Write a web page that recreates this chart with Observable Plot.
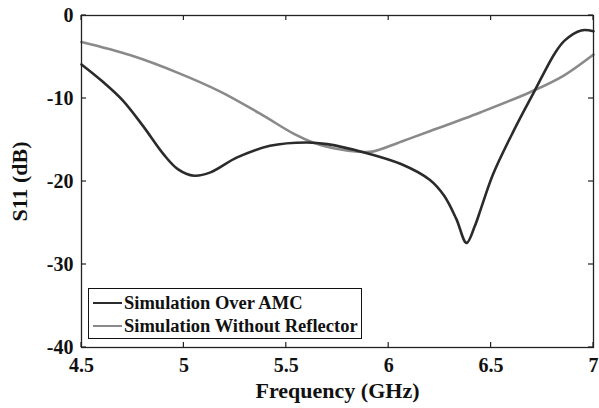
<!DOCTYPE html>
<html>
<head>
<meta charset="utf-8">
<script src="https://cdn.jsdelivr.net/npm/d3@7"></script>
<script src="https://cdn.jsdelivr.net/npm/@observablehq/plot@0.6"></script>
<style>
  html, body { margin: 0; padding: 0; background: #fff; }
  #wrap { position: relative; width: 599px; height: 408px; font-family: "Liberation Serif", "Times New Roman", serif; }
  #legend { position: absolute; left: 88px; top: 288px; width: 272px; height: 49px; border: 1.5px solid #111; background: #fff; }
  .row { position: absolute; left: 0; height: 22px; display: flex; align-items: center; font-weight: bold; font-size: 18.5px; color: #111; white-space: nowrap; }
  .sw { display: inline-block; width: 29px; height: 2.5px; margin-left: 4px; margin-right: 2px; }
</style>
</head>
<body>
<div id="wrap"></div>
<script>
// Series 1: Simulation Over AMC
const freqAMC = [4.5, 4.6, 4.7, 4.8, 4.9, 4.97, 5.05, 5.13, 5.26, 5.42, 5.6, 5.7, 5.88, 6.06, 6.2, 6.27, 6.33, 6.38, 6.42, 6.45, 6.51, 6.61, 6.71, 6.81, 6.86, 6.94, 7.0];
const s11AMC  = [-5.9, -7.9, -10.2, -13.3, -16.7, -18.5, -19.3, -18.9, -17.1, -15.7, -15.3, -15.5, -16.5, -17.9, -19.8, -21.7, -24.5, -27.4, -25.4, -23.3, -19.1, -13.9, -9.2, -4.6, -3.0, -1.8, -1.9];
// Series 2: Simulation Without Reflector
const freqNoRefl = [4.5, 4.74, 4.98, 5.18, 5.37, 5.54, 5.63, 5.73, 5.85, 5.92, 6.06, 6.2, 6.45, 6.69, 6.855, 7.0];
const s11NoRefl  = [-3.2, -4.8, -7.0, -9.2, -11.8, -14.3, -15.3, -16.0, -16.4, -16.4, -15.2, -13.95, -11.65, -9.24, -7.23, -4.7];

const seriesNames = ["Simulation Over AMC", "Simulation Without Reflector"];
const seriesColors = ["#2b2b2b", "#8a8a8a"];
const xTicks = [4.5, 5, 5.5, 6, 6.5, 7];
const xTickLabels = ["4.5", "5", "5.5", "6", "6.5", "7"];
const yTicks = [-40, -30, -20, -10, 0];
const yTickLabels = ["-40", "-30", "-20", "-10", "0"];

const amc = freqAMC.map((f, i) => ({f, s: s11AMC[i]}));
const noRefl = freqNoRefl.map((f, i) => ({f, s: s11NoRefl[i]}));

const font = "Liberation Serif";
const chart = Plot.plot({
  width: 599, height: 408,
  marginLeft: 81, marginRight: 6, marginTop: 15, marginBottom: 61,
  style: {fontFamily: font, fontWeight: "bold", color: "#111", background: "#fff"},
  x: {domain: [4.5, 7]},
  y: {domain: [-40, 0]},
  marks: [
    Plot.axisX({ticks: xTicks, tickSize: 0, tickPadding: 10, fontSize: 20, tickFormat: d => xTickLabels[xTicks.indexOf(d)], label: null}),
    Plot.axisX({ticks: [], tickSize: 0, fontSize: 22, label: "Frequency (GHz)", labelAnchor: "center", labelArrow: "none", labelOffset: 50}),
    Plot.axisY({ticks: yTicks, tickSize: 0, tickPadding: 8, fontSize: 20, tickFormat: d => yTickLabels[yTicks.indexOf(d)], label: null}),
    Plot.axisY({ticks: [], tickSize: 0, fontSize: 22, label: "S11 (dB)", labelAnchor: "center", labelArrow: "none", labelOffset: 70}),
    Plot.line(noRefl, {x: "f", y: "s", stroke: seriesColors[1], strokeWidth: 2.6, curve: "catmull-rom"}),
    Plot.line(amc, {x: "f", y: "s", stroke: seriesColors[0], strokeWidth: 2.6, curve: "catmull-rom"}),
    Plot.frame({stroke: "#222", strokeWidth: 1.3})
  ]
});
const wrap = document.getElementById("wrap");
wrap.appendChild(chart);

// inward tick marks on the four sides, positioned through the chart's scales
const xs = chart.scale("x"), ys = chart.scale("y");
const svg = d3.select(chart);
const g = svg.append("g").attr("stroke", "#222").attr("stroke-width", 1.2);
const y0 = ys.apply(-40), yTop = ys.apply(0), xL = xs.apply(4.5), xR = xs.apply(7);
xTicks.forEach(t => {
  const x = xs.apply(t);
  g.append("line").attr("x1", x).attr("x2", x).attr("y1", y0).attr("y2", y0 - 5);
  g.append("line").attr("x1", x).attr("x2", x).attr("y1", yTop).attr("y2", yTop + 5);
});
yTicks.forEach(t => {
  const y = ys.apply(t);
  g.append("line").attr("x1", xL).attr("x2", xL + 5).attr("y1", y).attr("y2", y);
  g.append("line").attr("x1", xR).attr("x2", xR - 5).attr("y1", y).attr("y2", y);
});

// legend
const legend = document.createElement("div");
legend.id = "legend";
seriesNames.forEach((name, i) => {
  const row = document.createElement("div");
  row.className = "row";
  row.style.top = (3 + i * 23) + "px";
  const sw = document.createElement("span");
  sw.className = "sw";
  sw.style.background = seriesColors[i];
  row.appendChild(sw);
  row.appendChild(document.createTextNode(name));
  legend.appendChild(row);
});
wrap.appendChild(legend);
</script>
</body>
</html>
